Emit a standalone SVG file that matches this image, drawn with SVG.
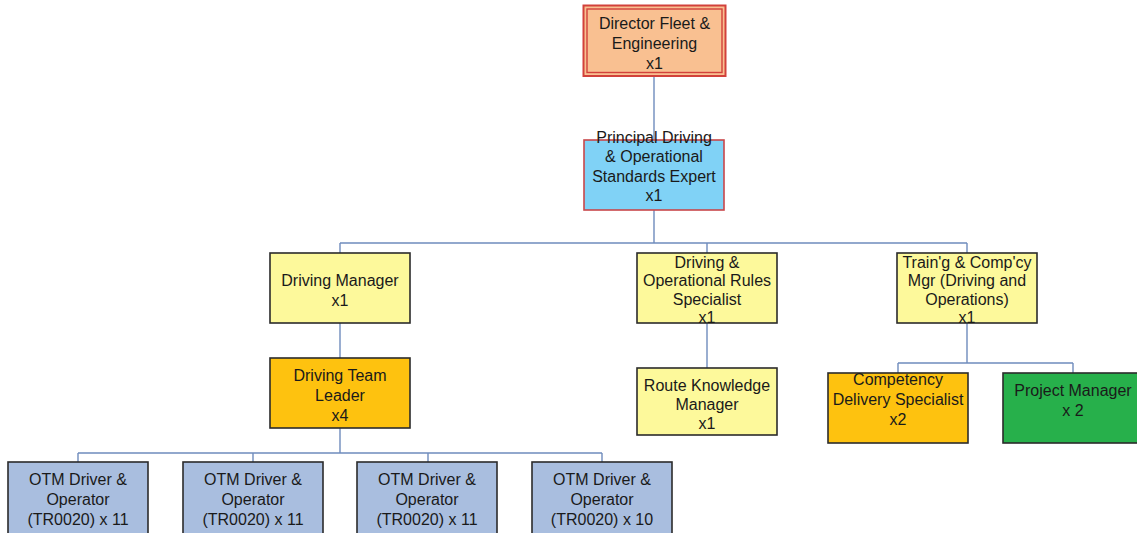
<svg xmlns="http://www.w3.org/2000/svg" width="1137" height="533" viewBox="0 0 1137 533">
  <style>
    .bg { fill: #ffffff; }
    .box { stroke: #2b2b2b; stroke-width: 1.6; }
    .yellow { fill: #fdf99b; }
    .gold { fill: #fec20f; }
    .green { fill: #27b04b; }
    .blue { fill: #a9bedf; }
    .sky { fill: #80d2f6; stroke: #c9474a; stroke-width: 1.6; }
    .peach { fill: #f9c091; }
    .dbl-out { fill: #f9c091; stroke: #d2413b; stroke-width: 2; }
    .dbl-in { fill: none; stroke: #d2413b; stroke-width: 1.4; }
    .lbl { font-family: "Liberation Sans", Arial, sans-serif; font-size: 16px; fill: #1a1a1a; text-anchor: middle; }
    .conn { stroke: #6f8cbd; stroke-width: 1.4; fill: none; }
  </style>

  <rect class="bg" x="0" y="0" width="1137" height="533"/>

  <!-- connectors -->
  <g id="connectors">
    <path class="conn" d="M654,76 V140"/>
    <path class="conn" d="M654,210 V243 M340,243 H967 M340,243 V253 M707,243 V253 M967,243 V253"/>
    <path class="conn" d="M340,323 V358"/>
    <path class="conn" d="M340,428 V453 M78,453 H602 M78,453 V462 M253,453 V462 M428,453 V462 M602,453 V462"/>
    <path class="conn" d="M707,323 V368"/>
    <path class="conn" d="M967,323 V363 M898,363 H1073 M898,363 V373 M1073,363 V373"/>
  </g>

  <!-- top: director -->
  <g id="director">
    <rect class="dbl-out" x="583.5" y="5.5" width="142" height="70.5"/>
    <rect class="dbl-in" x="587" y="9" width="135" height="63.5"/>
    <text class="lbl" x="654.5" y="28.5">Director Fleet &amp;</text>
    <text class="lbl" x="654.5" y="48.5">Engineering</text>
    <text class="lbl" x="654.5" y="68.5">x1</text>
  </g>

  <g id="principal">
    <rect class="sky" x="584" y="140" width="140" height="70"/>
    <text class="lbl" x="654" y="142.5">Principal Driving</text>
    <text class="lbl" x="654" y="162">&amp; Operational</text>
    <text class="lbl" x="654" y="181.5">Standards Expert</text>
    <text class="lbl" x="654" y="201">x1</text>
  </g>

  <!-- second level -->
  <g id="driving-manager">
    <rect class="box yellow" x="270" y="253" width="140" height="70"/>
    <text class="lbl" x="340" y="285.5">Driving Manager</text>
    <text class="lbl" x="340" y="305.5">x1</text>
  </g>

  <g id="rules-specialist">
    <rect class="box yellow" x="637" y="253" width="140" height="70"/>
    <text class="lbl" x="707" y="267.5">Driving &amp;</text>
    <text class="lbl" x="707" y="286">Operational Rules</text>
    <text class="lbl" x="707" y="304.5">Specialist</text>
    <text class="lbl" x="707" y="323">x1</text>
  </g>

  <g id="training-manager">
    <rect class="box yellow" x="897" y="253" width="140" height="70"/>
    <text class="lbl" x="967" y="267.5">Train'g &amp; Comp'cy</text>
    <text class="lbl" x="967" y="286">Mgr (Driving and</text>
    <text class="lbl" x="967" y="304.5">Operations)</text>
    <text class="lbl" x="967" y="323">x1</text>
  </g>

  <!-- third level -->
  <g id="team-leader">
    <rect class="box gold" x="270" y="358" width="140" height="70"/>
    <text class="lbl" x="340" y="381">Driving Team</text>
    <text class="lbl" x="340" y="401">Leader</text>
    <text class="lbl" x="340" y="421">x4</text>
  </g>

  <g id="route-knowledge">
    <rect class="box yellow" x="637" y="368" width="140" height="67"/>
    <text class="lbl" x="707" y="390.5">Route Knowledge</text>
    <text class="lbl" x="707" y="409.5">Manager</text>
    <text class="lbl" x="707" y="428.5">x1</text>
  </g>

  <g id="competency">
    <rect class="box gold" x="828" y="373" width="140" height="70"/>
    <text class="lbl" x="898" y="384.5">Competency</text>
    <text class="lbl" x="898" y="404.5">Delivery Specialist</text>
    <text class="lbl" x="898" y="424.5">x2</text>
  </g>

  <g id="project-manager">
    <rect class="box green" x="1003" y="373" width="140" height="70"/>
    <text class="lbl" x="1073" y="395.5">Project Manager</text>
    <text class="lbl" x="1073" y="415.5">x 2</text>
  </g>

  <!-- bottom row -->
  <g id="otm-1">
    <rect class="box blue" x="8" y="462" width="140" height="80"/>
    <text class="lbl" x="78" y="485">OTM Driver &amp;</text>
    <text class="lbl" x="78" y="505">Operator</text>
    <text class="lbl" x="78" y="524.5">(TR0020) x 11</text>
  </g>

  <g id="otm-2">
    <rect class="box blue" x="183" y="462" width="140" height="80"/>
    <text class="lbl" x="253" y="485">OTM Driver &amp;</text>
    <text class="lbl" x="253" y="505">Operator</text>
    <text class="lbl" x="253" y="524.5">(TR0020) x 11</text>
  </g>

  <g id="otm-3">
    <rect class="box blue" x="357" y="462" width="140" height="80"/>
    <text class="lbl" x="427" y="485">OTM Driver &amp;</text>
    <text class="lbl" x="427" y="505">Operator</text>
    <text class="lbl" x="427" y="524.5">(TR0020) x 11</text>
  </g>

  <g id="otm-4">
    <rect class="box blue" x="532" y="462" width="140" height="80"/>
    <text class="lbl" x="602" y="485">OTM Driver &amp;</text>
    <text class="lbl" x="602" y="505">Operator</text>
    <text class="lbl" x="602" y="524.5">(TR0020) x 10</text>
  </g>
</svg>
